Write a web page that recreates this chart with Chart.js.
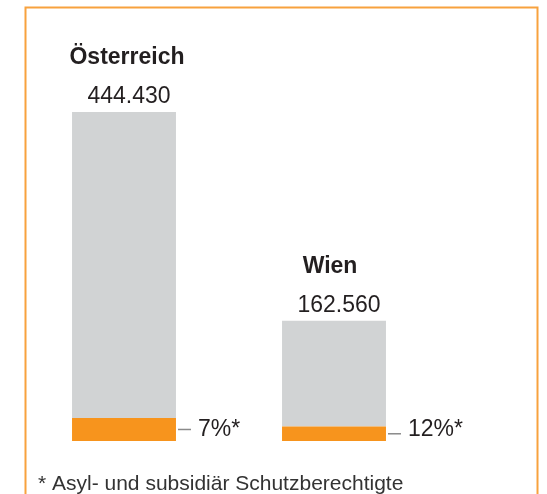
<!DOCTYPE html>
<html>
<head>
<meta charset="utf-8">
<script src="https://cdn.jsdelivr.net/npm/chart.js@4/dist/chart.umd.min.js"></script>
<style>
  body { margin: 0; background: #fff; }
  canvas { display: block; }
</style>
</head>
<body>
<canvas id="myChart" width="547" height="494"></canvas>
<script>
// data
var regions = ["Österreich", "Wien"];
var totals = [444430, 162560];
var totalLabels = ["444.430", "162.560"];
var sharePercent = [7, 12];
var shareLabels = ["7%*", "12%*"];
var footnote = "* Asyl- und subsidiär Schutzberechtigte";

var protectedCount = totals.map(function (t, i) { return t * sharePercent[i] / 100; });
var restCount = totals.map(function (t, i) { return t - protectedCount[i]; });

var textColor = "#231f20";
var font = "'Liberation Sans', Arial, sans-serif";

// frame + labels drawn on the canvas
var labelPlugin = {
    id: "labels",
    beforeDraw: function (chart) {
        var ctx = chart.ctx;
        ctx.save();
        ctx.strokeStyle = "#f8a23e";
        ctx.lineWidth = 2;
        ctx.strokeRect(25.5, 7.5, 512, 600);
        ctx.restore();
    },
    afterDatasetsDraw: function (chart) {
        var ctx = chart.ctx;
        var lower = chart.getDatasetMeta(0).data;
        var upper = chart.getDatasetMeta(1).data;
        var titleShift = [3, -4];
        ctx.save();
        ctx.fillStyle = textColor;
        ctx.textBaseline = "alphabetic";
        for (var i = 0; i < regions.length; i++) {
            var top = upper[i];
            var seg = lower[i];
            var right = top.x + top.width / 2;

            ctx.textAlign = "center";
            ctx.font = "bold 23px " + font;
            ctx.fillText(regions[i], top.x + titleShift[i], top.y - 48);
            ctx.font = "23px " + font;
            ctx.fillText(totalLabels[i], top.x + 5, top.y - 9);

            // dash + share label
            var midY = (seg.y + seg.base) / 2;
            ctx.strokeStyle = "#8a8a8a";
            ctx.lineWidth = 1.5;
            ctx.beginPath();
            ctx.moveTo(right + 2, midY);
            ctx.lineTo(right + 15, midY);
            ctx.stroke();
            ctx.textAlign = "left";
            ctx.fillText(shareLabels[i], right + 22, seg.base - 5);
        }
        ctx.font = "21px " + font;
        ctx.fillStyle = "#333333";
        ctx.textAlign = "left";
        ctx.fillText(footnote, 38, 490);
        ctx.restore();
    }
};

var ctx = document.getElementById("myChart").getContext("2d");
var myChart = new Chart(ctx, {
    type: "bar",
    data: {
        labels: regions,
        datasets: [{
            data: protectedCount,
            backgroundColor: "#f7941d",
            categoryPercentage: 1,
            barPercentage: 0.495
        }, {
            data: restCount,
            backgroundColor: "#d1d3d4",
            categoryPercentage: 1,
            barPercentage: 0.495
        }]
    },
    options: {
        responsive: false,
        animation: false,
        layout: { padding: { left: 19, right: 108, top: 112, bottom: 53 } },
        plugins: {
            legend: { display: false },
            tooltip: { enabled: false }
        },
        scales: {
            x: { stacked: true, display: false },
            y: { stacked: true, display: false, min: 0, max: totals[0] }
        }
    },
    plugins: [labelPlugin]
});
</script>
</body>
</html>
